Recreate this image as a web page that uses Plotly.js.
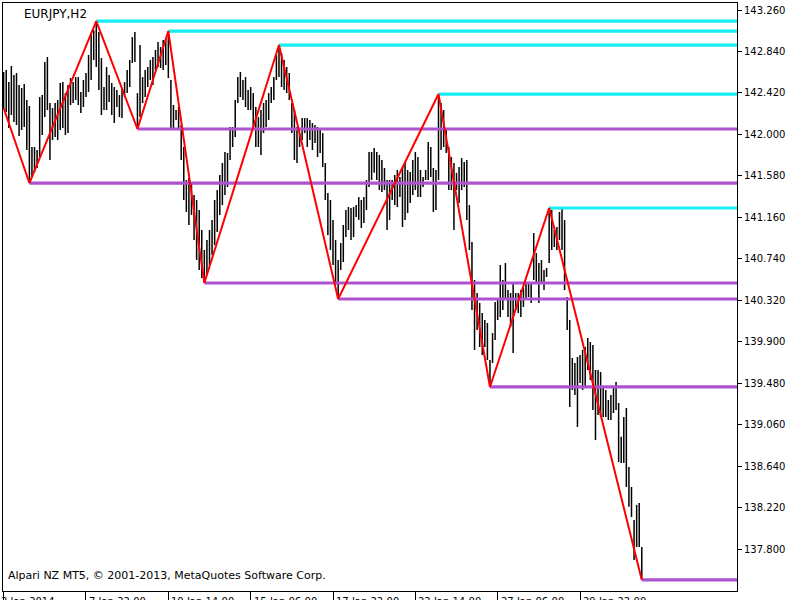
<!DOCTYPE html>
<html>
<head>
<meta charset="utf-8">
<script src="https://cdn.plot.ly/plotly-3.0.1.min.js"></script>
<style>html,body{margin:0;padding:0;background:#fff;}#chart{width:800px;height:600px;}</style>
</head>
<body>
<div id="chart"></div>
<script>
// EURJPY H2 bars (high / low), one value per bar
const highs = [
142.632,142.652,142.531,142.693,142.602,142.622,142.500,142.470,142.511,142.349,
142.288,141.873,141.873,141.842,142.379,142.399,142.733,142.784,142.318,142.268,
142.318,142.349,142.521,142.531,142.419,142.500,142.571,142.531,142.581,142.581,
142.430,142.551,142.622,142.804,143.027,143.057,143.148,143.037,142.774,142.480,
142.683,142.602,142.521,142.480,142.450,142.399,142.470,142.531,142.652,142.754,
142.986,143.037,142.419,142.905,142.581,142.652,142.683,142.754,142.784,142.855,
142.936,142.885,142.956,142.976,143.047,142.551,142.298,142.247,142.278,142.095,
141.873,141.539,141.559,141.518,141.387,141.336,141.235,141.032,140.830,140.931,
141.032,141.134,141.336,141.437,141.589,141.711,141.822,141.812,142.075,142.075,
142.349,142.581,142.632,142.551,142.581,142.450,142.480,142.419,142.278,142.176,
142.247,142.318,142.349,142.419,142.480,142.581,142.804,142.905,142.824,142.754,
142.683,142.622,142.318,142.247,142.075,142.014,142.166,142.166,142.166,142.146,
142.116,142.095,142.075,142.045,142.014,141.711,141.407,141.336,141.134,140.931,
140.729,140.901,141.083,141.235,141.265,141.255,141.265,141.285,141.366,141.336,
141.366,141.539,141.822,141.822,141.863,141.822,141.792,141.741,141.660,141.539,
141.539,141.539,141.589,141.640,141.569,141.670,141.711,141.640,141.620,141.741,
141.822,141.771,141.640,141.569,141.640,141.923,141.873,141.660,141.640,142.409,
142.318,142.247,142.045,141.873,141.771,141.711,141.611,141.670,141.761,141.721,
141.741,141.285,140.911,140.526,140.394,140.293,140.192,140.121,140.091,139.716,
139.989,140.303,140.324,140.678,140.526,140.698,140.425,140.394,140.506,140.394,
140.394,140.425,140.445,140.496,140.496,140.496,141.002,140.799,140.698,140.729,
140.627,140.648,141.255,141.235,141.032,141.063,141.215,141.245,141.134,140.354,
140.121,139.736,139.686,139.747,139.767,139.818,139.848,139.939,139.898,139.868,
139.615,139.615,139.595,139.443,139.413,139.311,139.362,139.433,139.493,139.281,
138.938,139.139,139.230,138.633,138.431,138.097,138.249,138.268,137.823];

const lows = [
142.268,142.227,142.065,142.197,142.126,142.095,141.984,142.045,142.075,141.842,
141.508,141.559,141.620,141.660,141.771,141.994,142.176,142.247,141.741,141.944,
141.974,141.944,142.045,142.065,141.994,142.014,142.298,142.318,142.349,142.298,
142.217,142.278,142.379,142.430,142.551,142.754,142.683,142.450,142.197,142.247,
142.247,142.328,142.197,142.116,142.278,142.176,142.166,142.379,142.419,142.480,
142.723,142.733,142.055,142.176,142.318,142.379,142.480,142.551,142.500,142.652,
142.683,142.672,142.652,142.703,142.571,142.045,142.045,142.146,142.045,141.741,
141.336,141.215,141.083,141.184,140.931,140.729,140.627,140.546,140.496,140.577,
140.678,140.780,140.880,141.012,141.184,141.285,141.387,141.468,141.741,141.873,
141.974,142.318,142.379,142.349,142.278,142.247,142.247,142.075,141.873,141.873,
141.792,142.014,142.075,142.146,142.318,142.349,142.551,142.581,142.480,142.450,
142.419,142.349,142.014,141.741,141.711,141.873,141.944,142.014,141.873,141.944,
141.842,141.913,141.771,141.812,141.670,141.336,140.982,140.830,140.678,140.475,
140.334,140.627,140.708,140.961,141.032,140.931,140.961,141.164,141.134,141.053,
141.103,141.235,141.468,141.539,141.611,141.539,141.437,141.417,141.437,141.032,
141.134,141.336,141.285,141.265,141.366,141.063,141.134,141.204,141.306,141.387,
141.437,141.366,141.366,141.468,141.539,141.539,141.569,141.215,141.235,141.539,
141.842,141.873,141.812,141.437,141.437,141.032,141.437,141.306,141.437,141.468,
141.134,140.830,140.222,139.818,140.020,139.848,139.767,139.848,139.716,139.443,
139.686,139.919,140.121,140.151,140.222,140.324,140.151,140.050,139.787,140.222,
140.192,140.151,140.253,140.324,140.354,140.293,140.526,140.496,140.293,140.496,
140.425,140.556,140.698,140.830,140.860,140.830,140.931,140.830,140.425,140.020,
139.240,139.413,139.362,139.038,139.483,139.413,139.443,139.615,139.514,139.210,
138.906,139.159,139.139,139.139,139.139,139.109,139.109,139.179,139.210,138.683,
138.673,138.673,138.431,138.229,138.126,137.691,137.823,137.823,137.489];

// ZigZag pivots (bar index, price, kind)
const pivotIndex = [0, 10, 36, 52, 64, 78, 107, 130, 169, 189, 212, 248];
const pivotPrice = [142.268, 141.508, 143.148, 142.055, 143.047, 140.496, 142.905, 140.334, 142.409, 139.443, 141.255, 137.489];
const pivotKind  = ['start','low','high','low','high','low','high','low','high','low','high','low'];

// Axis labels
const xTickIndex = [0, 32, 64, 96, 128, 160, 192, 224];
const xTickText  = ['2 Jan 2014', '7 Jan 22:00', '10 Jan 14:00', '15 Jan 06:00', '17 Jan 22:00', '22 Jan 14:00', '27 Jan 06:00', '29 Jan 22:00'];
const yTicks = [137.800, 138.220, 138.640, 139.060, 139.480, 139.900, 140.320, 140.740, 141.160, 141.580, 142.000, 142.420, 142.840, 143.260];

const symbolText = 'EURJPY,H2';
const copyrightText = 'Alpari NZ MT5, \u00a9 2001-2013, MetaQuotes Software Corp.';

const X_MIN = -0.25, X_MAX = 285.0;
const FONT = 'DejaVu Sans, Tahoma, sans-serif';

// bars as vertical segments
const bx = [], by = [];
for (let i = 0; i < highs.length; i++) {
  bx.push(i, i, null);
  by.push(lows[i], highs[i], null);
}

const traces = [{
  type: 'scatter', mode: 'lines', x: bx, y: by,
  line: {color: '#000000', width: 1.5}, hoverinfo: 'skip', showlegend: false
}];

// support / resistance levels from each pivot to the right edge
for (let k = 0; k < pivotIndex.length; k++) {
  if (pivotKind[k] === 'start') continue;
  traces.push({
    type: 'scatter', mode: 'lines',
    x: [pivotIndex[k], X_MAX], y: [pivotPrice[k], pivotPrice[k]],
    line: {color: pivotKind[k] === 'high' ? '#17EEF2' : '#AE52D0', width: 3.2},
    hoverinfo: 'skip', showlegend: false
  });
}

// zigzag
traces.push({
  type: 'scatter', mode: 'lines', x: pivotIndex, y: pivotPrice,
  line: {color: '#FF0000', width: 2}, hoverinfo: 'skip', showlegend: false
});

const annotations = xTickIndex.map((v, k) => ({
  x: v, xref: 'x', y: -0.0045, yref: 'paper',
  text: xTickText[k], showarrow: false, xanchor: 'left', yanchor: 'top',
  xshift: k === 0 ? -5 : 1, font: {family: FONT, size: 10, color: '#000'}
}));
annotations.push({
  x: 0.026, xref: 'paper', y: 0.981, yref: 'paper', text: symbolText,
  showarrow: false, xanchor: 'left', yanchor: 'middle',
  font: {family: FONT, size: 12, color: '#000'}
});
annotations.push({
  x: 0.004, xref: 'paper', y: 0.0272, yref: 'paper', text: copyrightText,
  showarrow: false, xanchor: 'left', yanchor: 'middle',
  font: {family: FONT, size: 11, color: '#000'}
});

const layout = {
  width: 800, height: 600,
  margin: {l: 3, r: 63, t: 3, b: 9, pad: 0},
  paper_bgcolor: '#ffffff', plot_bgcolor: '#ffffff',
  showlegend: false,
  xaxis: {
    range: [X_MIN, X_MAX], showgrid: false, zeroline: false,
    showline: true, mirror: true, linecolor: '#000', linewidth: 1,
    tickmode: 'array', tickvals: xTickIndex, ticktext: xTickText,
    showticklabels: false, ticks: 'outside', ticklen: 8, tickcolor: '#000', tickwidth: 1
  },
  yaxis: {
    range: [137.377, 143.331], side: 'right', showgrid: false, zeroline: false,
    showline: true, mirror: true, linecolor: '#000', linewidth: 1,
    tickmode: 'array', tickvals: yTicks, ticktext: yTicks.map(v => v.toFixed(3)),
    ticks: 'outside', ticklen: 4, tickcolor: '#000', tickwidth: 1,
    tickfont: {family: FONT, size: 10, color: '#000'}
  },
  annotations: annotations
};

Plotly.newPlot('chart', traces, layout, {staticPlot: true, displayModeBar: false});
</script>
</body>
</html>
